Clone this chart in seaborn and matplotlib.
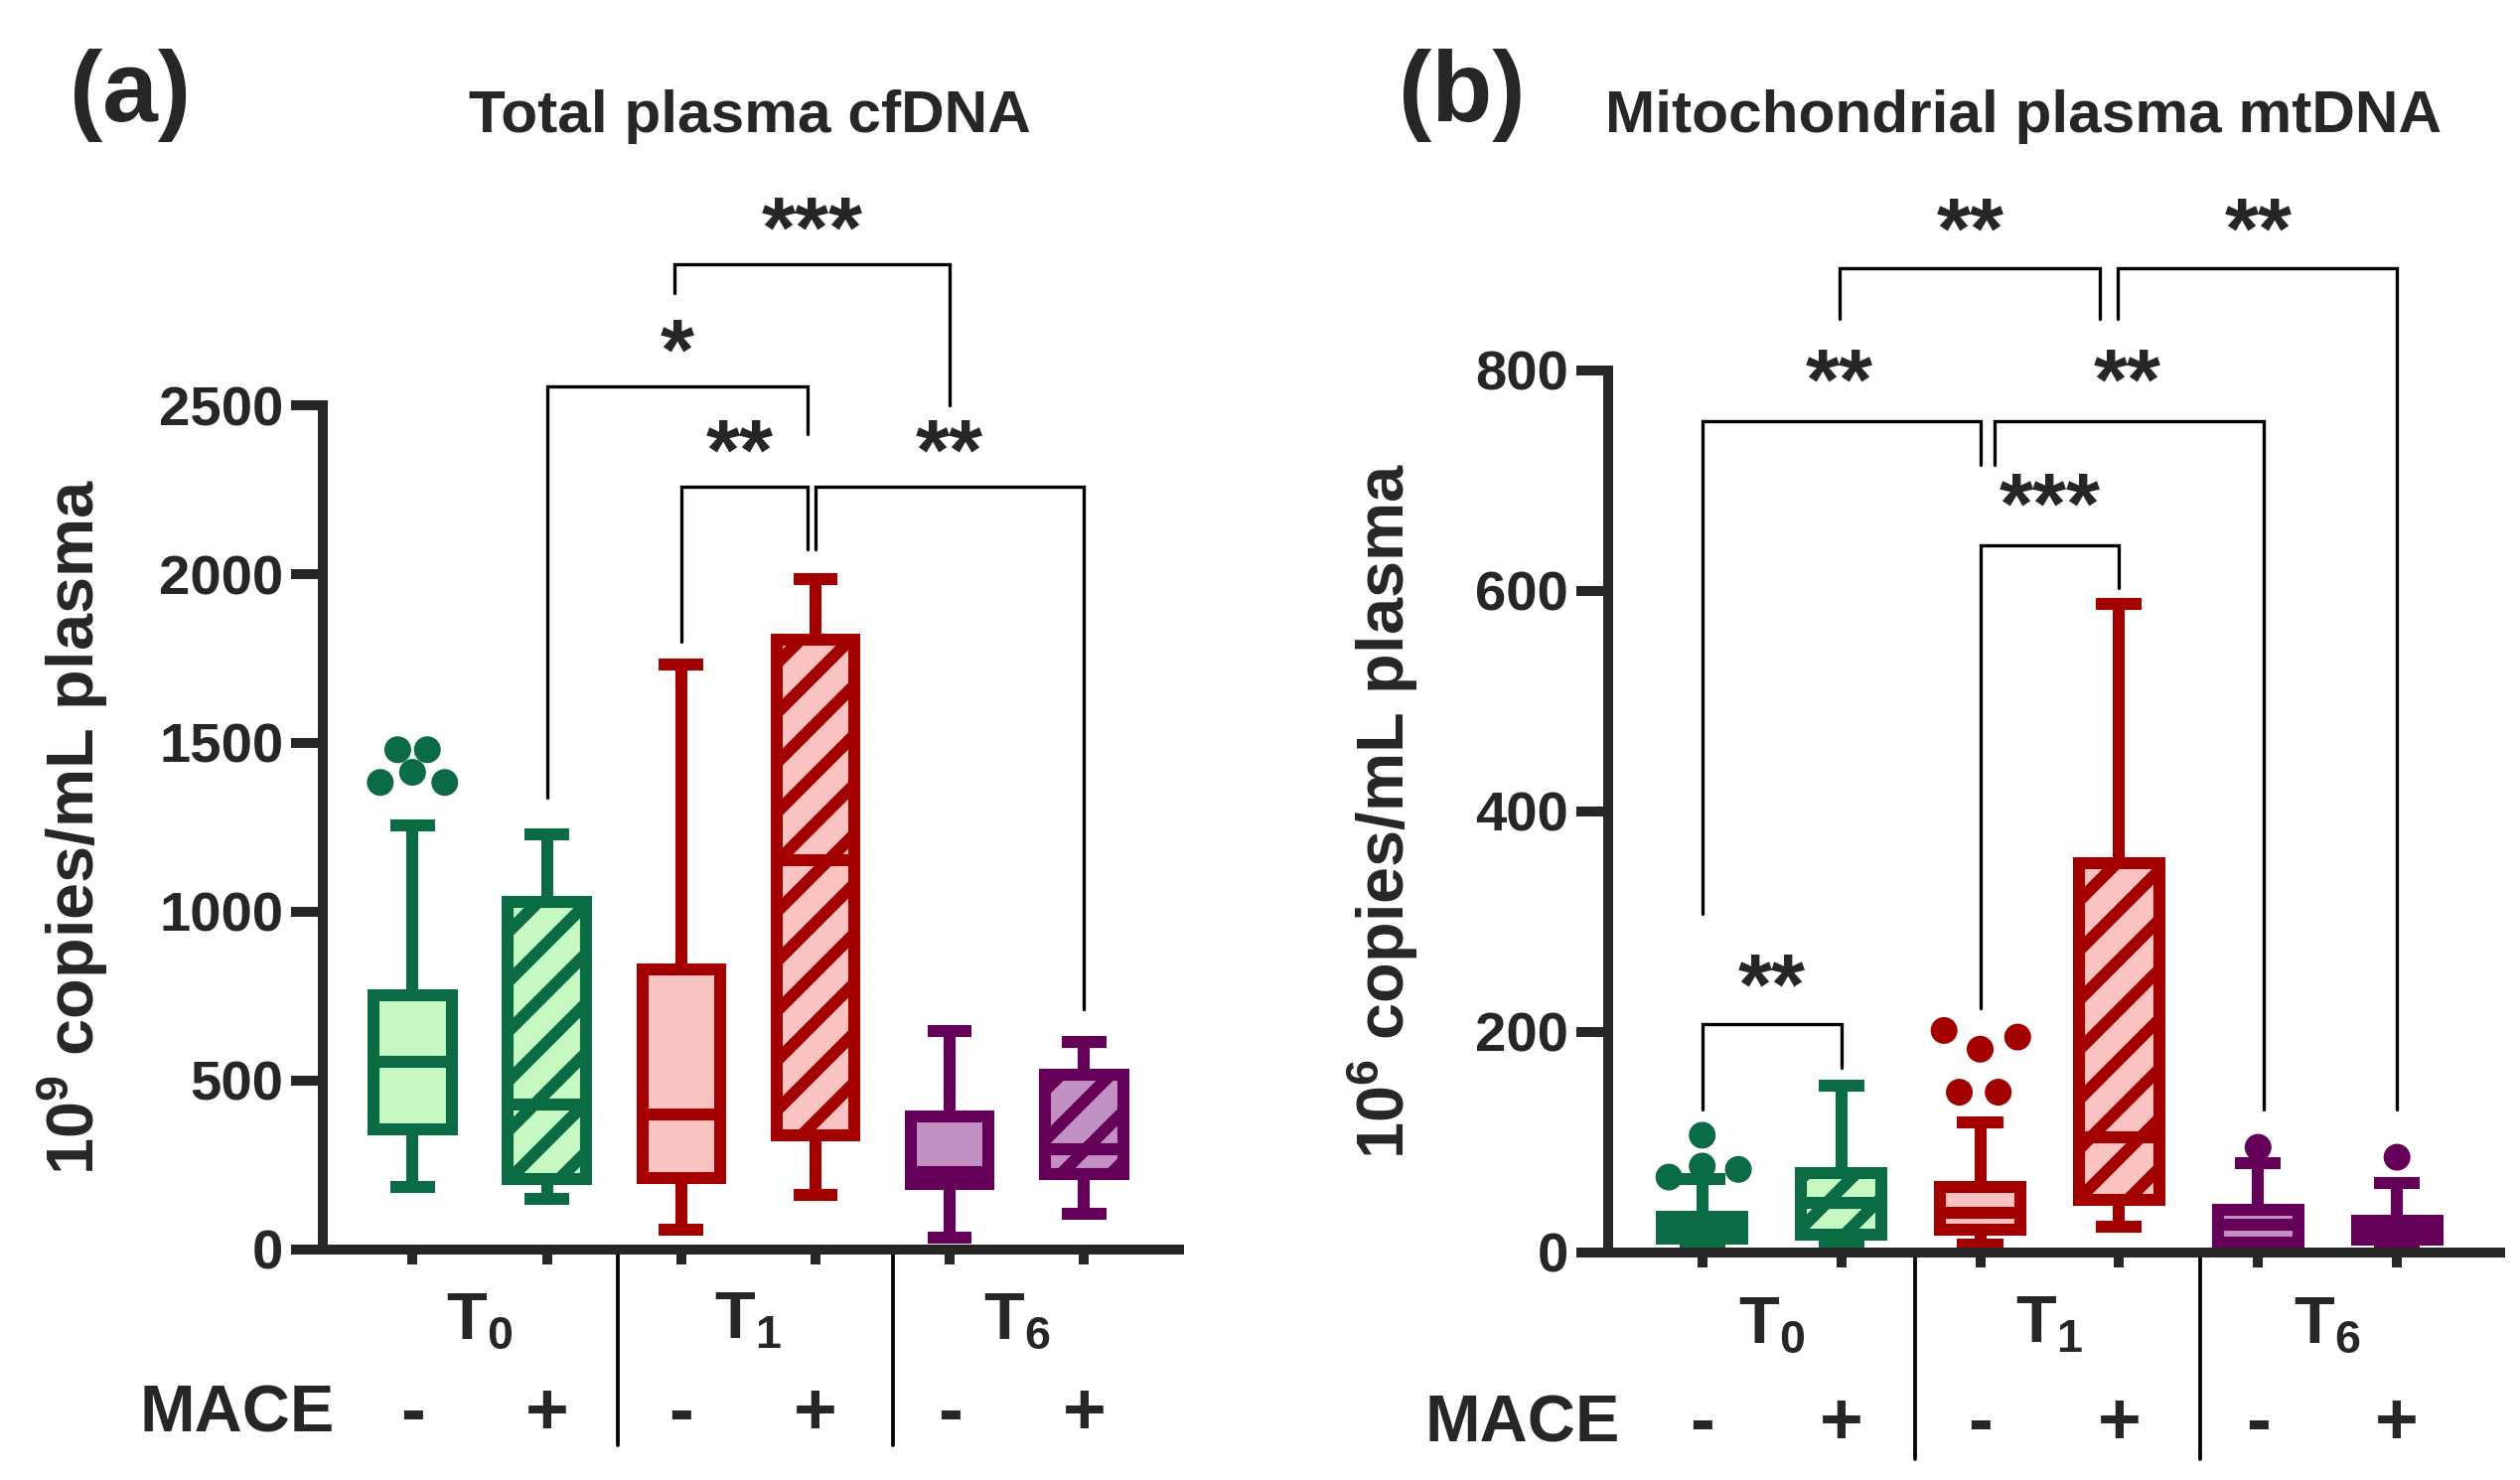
import numpy as np
import pandas as pd
import matplotlib
matplotlib.use("Agg")
import matplotlib.pyplot as plt
import seaborn as sns

# ---- data -----------------------------------------------------------------
positions = [0, 1, 2, 3, 4, 5]
groups = ["T$_0$", "T$_1$", "T$_6$"]
mace = ["-", "+", "-", "+", "-", "+"]

# (a) total plasma cfDNA, 10^9 copies/mL : whisker low, Q1, median, Q3, whisker high
cf_lo = [185, 148, 59, 160, 34, 104]
cf_q1 = [355, 207, 212, 336, 192, 222]
cf_med = [555, 429, 399, 1154, 229, 296]
cf_q3 = [751, 1028, 828, 1805, 392, 518]
cf_hi = [1257, 1228, 1733, 1985, 646, 614]
cf_out_box = [0, 0, 0, 0, 0]
cf_out_val = [1480, 1480, 1413, 1383, 1383]
cf_out_dx = [-0.11, 0.11, 0.0, -0.24, 0.24]

# (b) mitochondrial plasma mtDNA, 10^6 copies/mL
mt_lo = [4, 5, 7, 23, 4, 4]
mt_q1 = [12, 16, 20, 47, 9, 11]
mt_med = [23, 45, 36, 104, 25, 18]
mt_q3 = [32, 72, 59, 353, 38, 28]
mt_hi = [66, 151, 118, 588, 81, 63]
mt_out_box = [0, 0, 0, 0, 2, 2, 2, 2, 2, 4, 5]
mt_out_val = [106, 78, 75, 68, 201, 195, 184, 145, 145, 95, 86]
mt_out_dx = [0.0, 0.0, 0.26, -0.24, -0.26, 0.27, 0.0, -0.15, 0.13, 0.0, 0.0]

# significance brackets: label, x left, x right, top, left leg end, right leg end, text x, text y
cf_sig = [
    ("*", 1.0, 2.94, 2557, 1339, 2415, 1.97, 2705),
    ("**", 2.0, 2.94, 2259, 1799, 2075, 2.44, 2408),
    ("**", 3.0, 5.0, 2259, 2075, 710, 4.0, 2408),
    ("***", 1.95, 4.0, 2918, 2833, 2500, 2.98, 3067),
]
mt_sig = [
    ("**", 0.99, 2.86, 892, 846, 846, 1.93, 941),
    ("**", 2.99, 5.0, 892, 846, 129, 4.0, 941),
    ("**", 0.0, 2.0, 754, 307, 714, 0.99, 804),
    ("**", 2.1, 4.04, 754, 714, 129, 3.06, 804),
    ("***", 2.0, 3.0, 641, 221, 602, 2.5, 691),
    ("**", 0.0, 1.0, 207, 129, 167, 0.5, 255),
]

edge_colors = ["#0b6b45", "#0b6b45", "#a30000", "#a30000", "#650058", "#650058"]
fill_colors = ["#c6f8c2", "#c6f8c2", "#fbc2c2", "#fbc2c2", "#c290c2", "#c290c2"]

# ---- style ------------------------------------------------------------------
sns.set_style("ticks")
plt.rcParams["font.family"] = ["Liberation Sans", "DejaVu Sans"]
plt.rcParams["font.weight"] = "bold"
plt.rcParams["mathtext.default"] = "regular"
plt.rcParams["hatch.linewidth"] = 2.9

LW = 2.9
AX_LW = 2.4


def draw_panel(ax, lo, q1, med, q3, hi, out_box, out_val, out_dx, sig,
               ymax, yticks, xlim, ytxt):
    stats = []
    for i in range(len(positions)):
        stats.append(dict(whislo=lo[i], q1=q1[i], med=med[i], q3=q3[i],
                          whishi=hi[i], fliers=[]))
    art = ax.bxp(stats, positions=positions, widths=0.58, capwidths=0.33,
                 patch_artist=True, showfliers=False, manage_ticks=False)
    for i, box in enumerate(art["boxes"]):
        box.set_facecolor(fill_colors[i])
        box.set_edgecolor(edge_colors[i])
        box.set_linewidth(LW)
        box.set_joinstyle("miter")
        if mace[i] == "+":
            box.set_hatch("//")
            if hasattr(box, "set_hatchcolor"):
                box.set_hatchcolor(edge_colors[i])
        for key in ["whiskers", "caps"]:
            for ln in art[key][2 * i:2 * i + 2]:
                ln.set_color(edge_colors[i])
                ln.set_linewidth(LW)
                ln.set_solid_capstyle("butt")
        art["medians"][i].set_color(edge_colors[i])
        art["medians"][i].set_linewidth(LW)
        art["medians"][i].set_solid_capstyle("butt")

    # outliers
    df = pd.DataFrame({
        "x": [positions[b] + d for b, d in zip(out_box, out_dx)],
        "y": out_val,
        "box": [str(b) for b in out_box],
    })
    pal = {str(b): edge_colors[b] for b in set(out_box)}
    sns.scatterplot(data=df, x="x", y="y", hue="box", palette=pal, s=42,
                    linewidth=0, legend=False, ax=ax, zorder=3)

    # significance brackets
    for lab, x1, x2, top, yl, yr, tx, ty in sig:
        ax.plot([x1, x1, x2, x2], [yl, top, top, yr], color="black",
                lw=0.8, clip_on=False, solid_joinstyle="miter")
        ax.annotate(lab, (tx, ty), xytext=(0, -5), textcoords="offset points",
                    ha="center", va="center", fontsize=21,
                    fontweight="bold", annotation_clip=False)

    ax.set_xlim(*xlim)
    ax.set_ylim(0, ymax)
    ax.set_yticks(yticks)
    ax.set_xticks(positions)
    ax.set_xticklabels([])
    ax.set_xlabel("")
    ax.set_ylabel("")
    ax.tick_params(axis="y", length=7.7, width=AX_LW, labelsize=13.5, pad=1.8)
    ax.tick_params(axis="x", length=3.6, width=AX_LW)
    sns.despine(ax=ax)
    for s in ["left", "bottom"]:
        ax.spines[s].set_linewidth(AX_LW)

    # category labels under the axis
    trans = ax.get_xaxis_transform()
    for g, name in enumerate(groups):
        cx = np.mean(positions[2 * g:2 * g + 2])
        ax.text(cx, ytxt[0], name, transform=trans, ha="center", va="center",
                fontsize=16)
    ax.text(xlim[0] + 0.09, ytxt[1], "MACE", transform=trans, ha="right",
            va="center", fontsize=16)
    for i, m in enumerate(mace):
        ax.text(positions[i], ytxt[1], m, transform=trans, ha="center",
                va="center", fontsize=18)
    for sx in [1.53, 3.58]:
        ax.plot([sx, sx], [0, ytxt[2]], transform=trans, color="black",
                lw=0.9, clip_on=False)


fig = plt.figure(figsize=(2537 / 300, 1490 / 300), dpi=300)
ax_a = fig.add_axes([0.128, 0.156, 0.340, 0.570])
ax_b = fig.add_axes([0.638, 0.154, 0.354, 0.596])

draw_panel(ax_a, cf_lo, cf_q1, cf_med, cf_q3, cf_hi, cf_out_box, cf_out_val,
           cf_out_dx, cf_sig, 2500, [0, 500, 1000, 1500, 2000, 2500],
           (-0.67, 5.71), (-0.086, -0.197, -0.232))
draw_panel(ax_b, mt_lo, mt_q1, mt_med, mt_q3, mt_hi, mt_out_box, mt_out_val,
           mt_out_dx, mt_sig, 800, [0, 200, 400, 600, 800],
           (-0.68, 5.74), (-0.083, -0.196, -0.235))

fig.text(0.0288, 0.156 + 0.570 / 2, "10$^9$ copies/mL plasma", rotation=90,
         ha="center", va="center", fontsize=16)
fig.text(0.5487, 0.154 + 0.596 / 2, "10$^6$ copies/mL plasma", rotation=90,
         ha="center", va="center", fontsize=16)

fig.text(0.2976, 0.921, "Total plasma cfDNA", ha="center", va="center",
         fontsize=14.5)
fig.text(0.803, 0.921, "Mitochondrial plasma mtDNA", ha="center",
         va="center", fontsize=14.5)
fig.text(0.0276, 0.9356, "(a)", ha="left", va="center", fontsize=24)
fig.text(0.555, 0.9356, "(b)", ha="left", va="center", fontsize=24)

fig.savefig("out.png", dpi=300)
